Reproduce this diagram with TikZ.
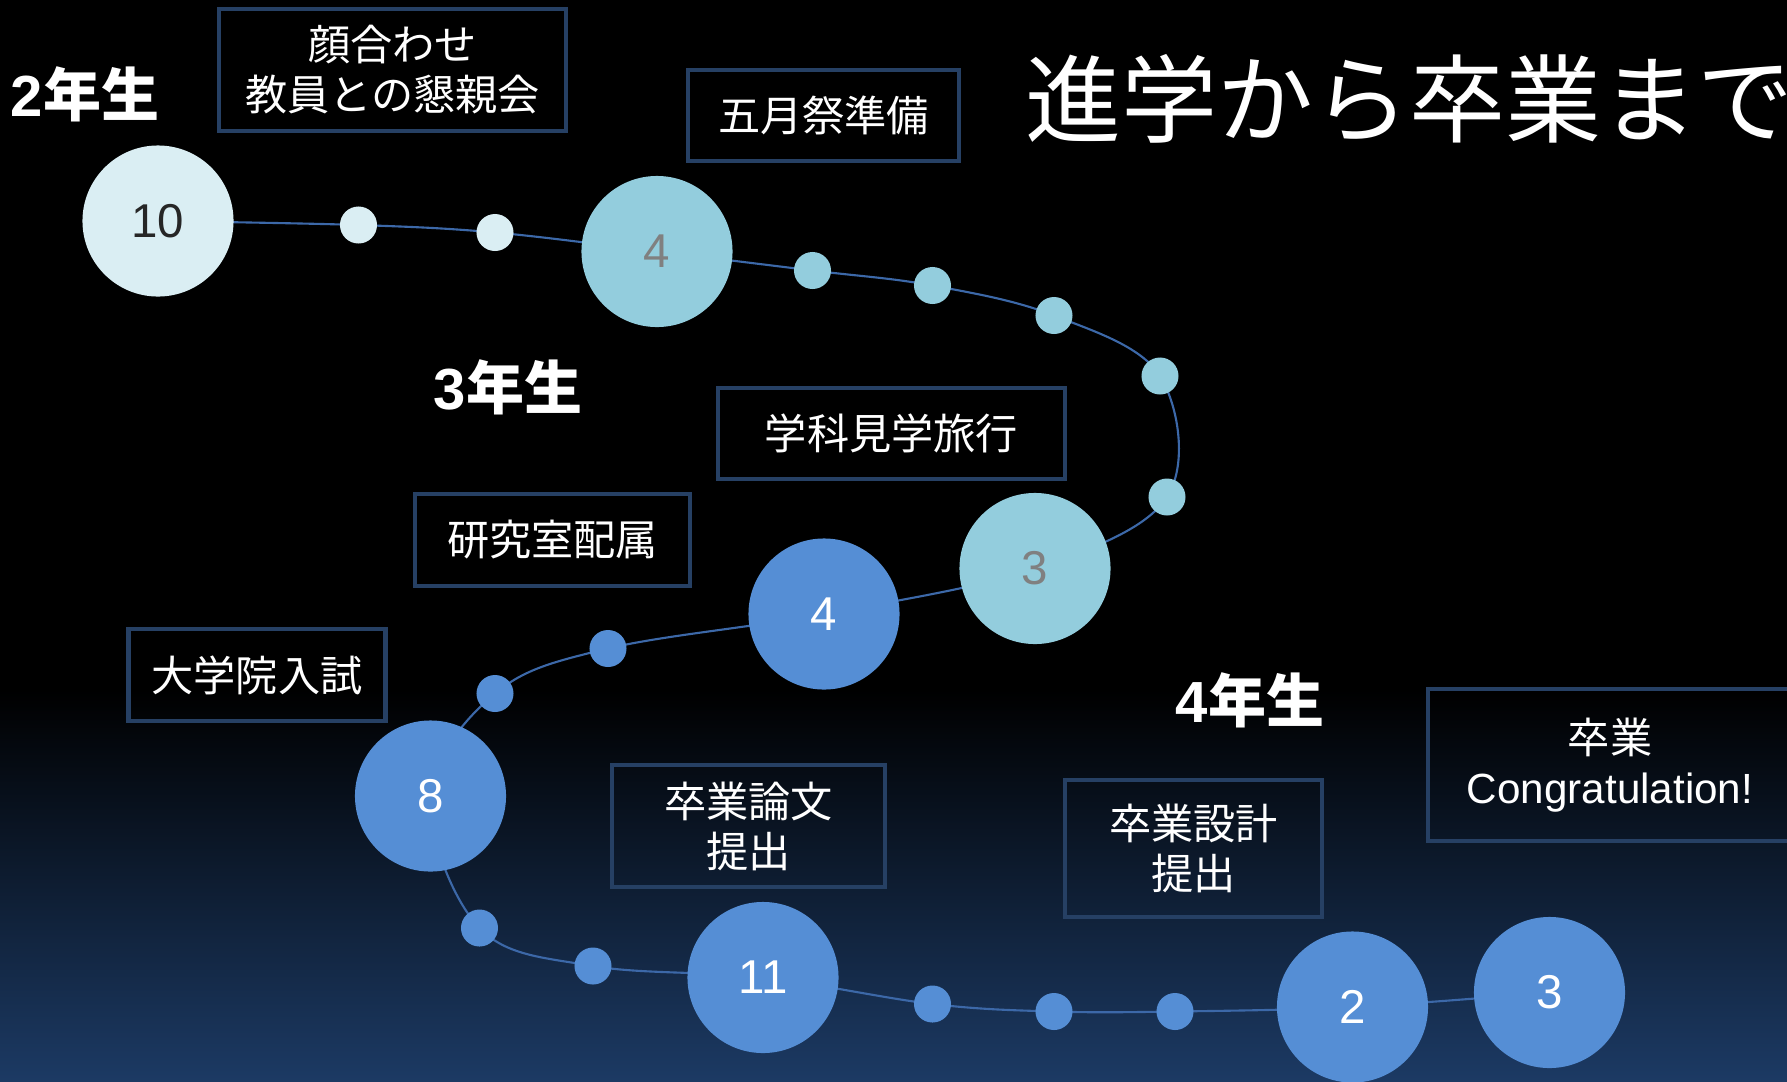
\documentclass[tikz,border=0pt]{standalone}
\usepackage{fontspec}
\setmainfont{Liberation Sans}
\newfontfamily\jpfont{Noto Sans CJK JP}
\usetikzlibrary{backgrounds}

\definecolor{clight}{RGB}{218,238,243}
\definecolor{ccyan}{RGB}{147,205,221}
\definecolor{cblue}{RGB}{85,142,213}
\definecolor{linecol}{RGB}{60,104,168}
\definecolor{boxline}{RGB}{38,64,100}
\definecolor{bgnavy}{RGB}{28,58,100}
\definecolor{numdark}{RGB}{38,38,38}
\definecolor{numgray}{RGB}{128,128,128}

\tikzset{
  bigdot/.style={circle,minimum size=1.51cm,inner sep=0pt,font=\fontsize{13.5}{16}\selectfont},
  smalldot/.style={circle,minimum size=0.37cm,inner sep=0pt},
  evbox/.style={draw=boxline,line width=1.3pt,text=white,align=center,inner sep=0pt,
    font=\jpfont\fontsize{12}{14.2}\selectfont},
  yearlbl/.style={text=white,inner sep=0pt,font=\bfseries\fontsize{16.5}{19}\selectfont},
}

\begin{document}
\begin{tikzpicture}[x=0.01cm,y=-0.01cm]
          \useasboundingbox (0,0) rectangle (1787,1081);
          \clip (0,0) rectangle (1787,1081);
          %\draw[very thin,lightgray] (0,0) grid[step=100] (1787,1081);
          \node[anchor=west,inner sep=0pt,text=white,font=\jpfont\fontsize{27.3}{30}\selectfont] (title) at (1025,99) {進学から卒業まで};
          \node[yearlbl] (y2) at (85,94) {2{\jpfont 年生}};
          \node[yearlbl] (y3) at (508,387) {3{\jpfont 年生}};
          \node[yearlbl] (y4) at (1250,700) {4{\jpfont 年生}};
          \node[evbox,minimum width=3.47cm,minimum height=1.22cm] (kao) at (392.5,70) {顔合わせ\\教員との懇親会};
          \node[evbox,minimum width=2.71cm,minimum height=0.91cm] (gogatsu) at (823.5,115.5) {五月祭準備};
          \node[evbox,minimum width=3.47cm,minimum height=0.91cm] (kengaku) at (891.5,433.5) {学科見学旅行};
          \node[evbox,minimum width=2.75cm,minimum height=0.92cm] (haizoku) at (552.5,540) {研究室配属};
          \node[evbox,minimum width=2.57cm,minimum height=0.92cm] (nyushi) at (257,675) {大学院入試};
          \node[evbox,minimum width=2.73cm,minimum height=1.22cm] (ronbun) at (748.5,826) {卒業論文\\提出};
          \node[evbox,minimum width=2.57cm,minimum height=1.37cm] (sekkei) at (1193.5,848.5) {卒業設計\\提出};
          \node[evbox,minimum width=3.64cm,minimum height=1.52cm] (sotsu) at (1610,765) {卒業\\{\rmfamily Congratulation!}};
          % 2nd year
          \node[bigdot,fill=clight,text=numdark] (n10) at (158,221) {10};
          \node[smalldot,fill=clight] (d1) at (358.5,225) {};
          \node[smalldot,fill=clight] (d2) at (495,232.5) {};
          % 3rd year
          \node[bigdot,fill=ccyan,text=numgray] (n4a) at (657,251.5) {4};
          \node[smalldot,fill=ccyan] (d3) at (812.5,270.5) {};
          \node[smalldot,fill=ccyan] (d4) at (932.5,285.5) {};
          \node[smalldot,fill=ccyan] (d5) at (1054,315.5) {};
          \node[smalldot,fill=ccyan] (d6) at (1160,376) {};
          \node[smalldot,fill=ccyan] (d7) at (1167,497) {};
          \node[bigdot,fill=ccyan,text=numgray] (n3a) at (1035,568.5) {3};
          % 4th year
          \node[bigdot,fill=cblue,text=white] (n4b) at (824,614) {4};
          \node[smalldot,fill=cblue] (d8) at (608,648.5) {};
          \node[smalldot,fill=cblue] (d9) at (495,693.5) {};
          \node[bigdot,fill=cblue,text=white] (n8) at (430.5,796) {8};
          \node[smalldot,fill=cblue] (d10) at (479.5,928) {};
          \node[smalldot,fill=cblue] (d11) at (593,966) {};
          \node[bigdot,fill=cblue,text=white] (n11) at (763,977.5) {11};
          \node[smalldot,fill=cblue] (d12) at (932.5,1004) {};
          \node[smalldot,fill=cblue] (d13) at (1054,1011.5) {};
          \node[smalldot,fill=cblue] (d14) at (1175,1011.5) {};
          \node[bigdot,fill=cblue,text=white] (n2) at (1352.5,1007) {2};
          \node[bigdot,fill=cblue,text=white] (n3b) at (1549.5,992.5) {3};
          \begin{pgfonlayer}{background}
            \fill[black] (0,0) rectangle (1787,1081);
            \shade[top color=black,bottom color=bgnavy] (0,690) rectangle (1787,1081);
            \draw[linecol,line width=0.6pt] plot[smooth,tension=0.6] coordinates {(n10) (d1) (d2) (n4a) (d3) (d4) (d5) (d6) (d7) (n3a) (n4b) (d8) (d9) (n8) (d10) (d11) (n11) (d12) (d13) (d14) (n2) (n3b)};
          \end{pgfonlayer}
        \end{tikzpicture}
\end{document}
